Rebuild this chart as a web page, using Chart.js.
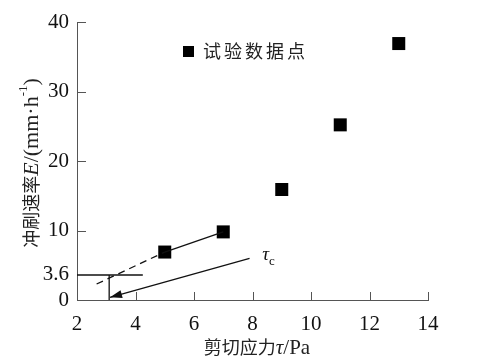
<!DOCTYPE html>
<html><head><meta charset="utf-8">
<script src="https://cdn.jsdelivr.net/npm/chart.js@4/dist/chart.umd.min.js"></script>
<style>html,body{margin:0;padding:0;background:#fff}canvas{display:block}</style>
</head><body>
<canvas id="c" width="478" height="364"></canvas>
<script>
// ---- data ----
const shearStress = [5, 7, 9, 11, 13];
const erosionRate = [6.9, 9.8, 15.9, 25.2, 36.9];
const fitLineX = [5, 7];
const fitLineY = [6.9, 9.8];
const extensionX = [2.67, 5];
const extensionY = [2.3, 6.9];
const criticalRate = 3.6;
const criticalStress = 3.1;
const hLineX = [2, 4.25];
const arrowX = [7.9, 3.13];
const arrowY = [6.0, 0.39];
const tauLabelAnchor = [8.33, 5.8];
const xTicks = [2, 4, 6, 8, 10, 12, 14];
const yTicks = [0, 3.6, 10, 20, 30, 40];
const legendLabel = '试验数据点';
const xTitleParts = ['剪切应力', 'τ', '/Pa'];
const yTitleParts = ['冲刷速率', 'E', '/(mm·h', '-1', ')'];

const toPts = (xs, ys) => xs.map((x, i) => ({x, y: ys[i]}));
const SERIF = '"Liberation Serif", "Times New Roman", serif';
const CJK = '"Noto Sans CJK SC", sans-serif';
const AXIS_COLOR = '#555';
const TEXT_COLOR = '#111';

const lineDs = (data, extra) => Object.assign({
  data, showLine: true, pointRadius: 0, pointHoverRadius: 0,
  borderColor: '#111', borderWidth: 1.3, fill: false
}, extra || {});

const annotations = {
  id: 'annotations',
  afterDatasetsDraw(chart) {
    const ctx = chart.ctx;
    const xs = chart.scales.x, ys = chart.scales.y;
    const a = chart.chartArea;
    ctx.save();
    // inward tick marks
    ctx.strokeStyle = AXIS_COLOR; ctx.lineWidth = 1;
    xTicks.forEach(v => {
      if (v === xs.min) return;
      const px = Math.round(xs.getPixelForValue(v)) + 0.5;
      ctx.beginPath(); ctx.moveTo(px, a.bottom); ctx.lineTo(px, a.bottom - 8); ctx.stroke();
    });
    yTicks.forEach(v => {
      if (v === ys.min || v === criticalRate) return;
      const py = Math.round(ys.getPixelForValue(v)) + 0.5;
      ctx.beginPath(); ctx.moveTo(a.left, py); ctx.lineTo(a.left + 9, py); ctx.stroke();
    });
    // arrow head
    const x0 = xs.getPixelForValue(arrowX[0]), y0 = ys.getPixelForValue(arrowY[0]);
    const x1 = xs.getPixelForValue(arrowX[1]), y1 = ys.getPixelForValue(arrowY[1]);
    const ang = Math.atan2(y1 - y0, x1 - x0);
    const L = 12, W = 4;
    ctx.fillStyle = '#111';
    ctx.beginPath();
    ctx.moveTo(x1, y1);
    ctx.lineTo(x1 - L * Math.cos(ang) + W * Math.sin(ang), y1 - L * Math.sin(ang) - W * Math.cos(ang));
    ctx.lineTo(x1 - L * Math.cos(ang) - W * Math.sin(ang), y1 - L * Math.sin(ang) + W * Math.cos(ang));
    ctx.closePath(); ctx.fill();
    // tau_c label
    const tx = xs.getPixelForValue(tauLabelAnchor[0]), ty = ys.getPixelForValue(tauLabelAnchor[1]);
    ctx.fillStyle = TEXT_COLOR;
    ctx.textBaseline = 'alphabetic'; ctx.textAlign = 'left';
    ctx.font = 'italic 19px ' + SERIF;
    ctx.fillText('τ', tx, ty);
    const tw = ctx.measureText('τ').width;
    ctx.font = '13px ' + SERIF;
    ctx.fillText('c', tx + tw, ty + 5);
    // legend
    ctx.fillStyle = '#000';
    ctx.fillRect(183, 46, 11, 11);
    ctx.fillStyle = '#222';
    ctx.font = '18px ' + CJK;
    ctx.textBaseline = 'middle';
    if ('letterSpacing' in ctx) ctx.letterSpacing = '3px';
    ctx.fillText(legendLabel, 203, 51);
    if ('letterSpacing' in ctx) ctx.letterSpacing = '0px';
    // axis titles
    const drawParts = (parts, cx, cy, rot) => {
      ctx.save();
      ctx.translate(cx, cy); ctx.rotate(rot);
      ctx.textBaseline = 'middle'; ctx.textAlign = 'left';
      let total = 0;
      parts.forEach(p => { ctx.font = p.f; p.w = ctx.measureText(p.t).width; total += p.w; });
      let x = -total / 2;
      parts.forEach(p => { ctx.font = p.f; ctx.fillStyle = '#222'; ctx.fillText(p.t, x, p.dy || 0); x += p.w; });
      ctx.restore();
    };
    drawParts([
      {t: xTitleParts[0], f: '18px ' + CJK},
      {t: xTitleParts[1], f: 'italic 21px ' + SERIF, dy: 1},
      {t: xTitleParts[2], f: '21px ' + SERIF, dy: 1}
    ], 257, 347, 0);
    drawParts([
      {t: yTitleParts[0], f: '18px ' + CJK},
      {t: yTitleParts[1], f: 'italic 22px ' + SERIF, dy: 1},
      {t: yTitleParts[2], f: '22px ' + SERIF, dy: 1},
      {t: yTitleParts[3], f: '13px ' + SERIF, dy: -7},
      {t: yTitleParts[4], f: '22px ' + SERIF, dy: 1}
    ], 31, 163, -Math.PI / 2);
    ctx.restore();
  }
};

new Chart(document.getElementById('c'), {
  type: 'scatter',
  data: {
    datasets: [
      lineDs(toPts(hLineX, [criticalRate, criticalRate])),
      lineDs(toPts([criticalStress, criticalStress], [criticalRate, 0])),
      lineDs(toPts(extensionX, extensionY), {borderDash: [7, 5]}),
      lineDs(toPts(fitLineX, fitLineY)),
      lineDs(toPts(arrowX, arrowY)),
      {
        data: toPts(shearStress, erosionRate),
        pointStyle: 'rect', pointRadius: 9.2, pointHoverRadius: 9.2,
        backgroundColor: '#000', borderColor: '#000', borderWidth: 0, showLine: false
      }
    ]
  },
  options: {
    responsive: false, animation: false, devicePixelRatio: 1,
    layout: {padding: {left: 0, top: 22, right: 50, bottom: 0}},
    plugins: {legend: {display: false}, tooltip: {enabled: false}},
    scales: {
      x: {
        type: 'linear', min: 2, max: 14,
        afterBuildTicks: s => { s.ticks = xTicks.map(v => ({value: v})); },
        afterFit: s => { s.height = 64; },
        grid: {display: false},
        border: {display: true, color: AXIS_COLOR, width: 1},
        ticks: {font: {family: SERIF, size: 21}, color: TEXT_COLOR, padding: 4, maxRotation: 0,
                callback: v => String(v)}
      },
      y: {
        type: 'linear', min: 0, max: 40,
        afterBuildTicks: s => { s.ticks = yTicks.map(v => ({value: v})); },
        afterFit: s => { s.width = 77; },
        grid: {display: false},
        border: {display: true, color: AXIS_COLOR, width: 1},
        ticks: {font: {family: SERIF, size: 21}, color: TEXT_COLOR, padding: 0,
                callback: v => String(v)}
      }
    }
  },
  plugins: [annotations]
});
</script>
</body></html>
